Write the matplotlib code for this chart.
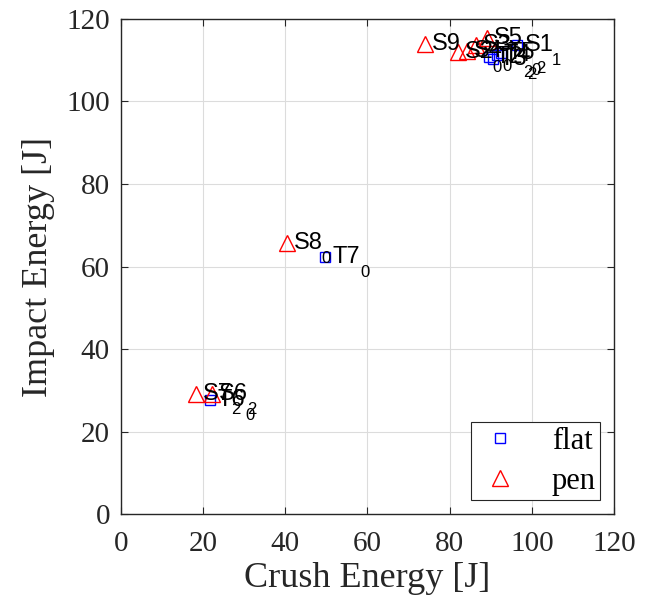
import matplotlib
matplotlib.use("Agg")
import matplotlib.pyplot as plt

# crush / impact energies for the two indenter shapes
flat_crush = [96.5, 89.5, 90.5, 91.5, 92.5, 49.7, 21.7]
flat_impact = [113.6, 110.8, 110.2, 111.2, 111.8, 62.2, 27.6]
flat_labels = ["S1", "T2", "T3", "T4", "T5", "T7", "T6"]
flat_subs = ["1", "2", "2", "0", "2", "0", "0"]

pen_crush = [74.0, 89.0, 86.5, 84.3, 82.0, 40.4, 18.3, 22.2]
pen_impact = [114.0, 115.5, 113.6, 112.2, 112.0, 65.6, 29.0, 29.0]
pen_labels = ["S9", "S5", "S3", "S4", "S2", "S8", "S7", "S6"]
pen_subs = ["", "", "", "0", "0", "0", "2", "2"]

x_ticks = [0, 20, 40, 60, 80, 100, 120]
y_ticks = [0, 20, 40, 60, 80, 100, 120]

serif = "Liberation Serif"
sans = "Liberation Sans"

fig = plt.figure(figsize=(6.52, 6.05), dpi=100)
ax = fig.add_axes([0.1856, 0.1504, 0.7561, 0.8182])

ax.plot(flat_crush, flat_impact, linestyle="none", marker="s", markersize=7.5,
        markerfacecolor="none", markeredgecolor="#0000ff", markeredgewidth=1.0,
        label="flat", zorder=3)
ax.plot(pen_crush, pen_impact, linestyle="none", marker="^", markersize=11,
        markerfacecolor="none", markeredgecolor="#ff0000", markeredgewidth=1.0,
        label="pen", zorder=3)


def put_label(x, y, name, sub):
    ax.annotate(name, (x, y), xytext=(5, 0), textcoords="offset points",
                va="center", ha="left", fontsize=17, family=sans,
                color="black", zorder=4)
    if sub:
        ax.annotate(sub, (x, y), xytext=(5 + 0.56 * 17 * len(name) + 1, -11),
                    textcoords="offset points", va="center", ha="left",
                    fontsize=12, family=sans, color="black", zorder=4)


for x, y, n, s in zip(flat_crush, flat_impact, flat_labels, flat_subs):
    put_label(x, y, n, s)
for x, y, n, s in zip(pen_crush, pen_impact, pen_labels, pen_subs):
    put_label(x, y, n, s)

ax.set_xlim(0, 120)
ax.set_ylim(0, 120)
ax.set_xticks(x_ticks)
ax.set_yticks(y_ticks)
ax.grid(True, color="#dcdcdc", linewidth=0.8)
ax.set_axisbelow(True)
ax.tick_params(direction="in", length=5, width=0.8, colors="#262626",
               labelsize=21, top=True, right=True)
ax.tick_params(axis="x", pad=12)
ax.tick_params(axis="y", pad=8)
for lab in ax.get_xticklabels() + ax.get_yticklabels():
    lab.set_family(serif)
for sp in ax.spines.values():
    sp.set_color("#262626")
    sp.set_linewidth(1.0)

ax.set_xlabel("Crush Energy [J]", fontsize=26, family=serif, color="#262626",
              labelpad=4)
ax.set_ylabel("Impact Energy [J]", fontsize=26, family=serif, color="#262626",
              labelpad=8)

leg = ax.legend(loc="lower right", prop={"family": serif, "size": 22},
                frameon=True, fancybox=False, edgecolor="#262626",
                borderpad=0.15, handletextpad=0.9, labelspacing=0.35,
                borderaxespad=0.45, markerfirst=True, handlelength=1.6)
leg.get_frame().set_linewidth(0.8)
leg.get_frame().set_alpha(1)

fig.savefig("out.png", dpi=100)
